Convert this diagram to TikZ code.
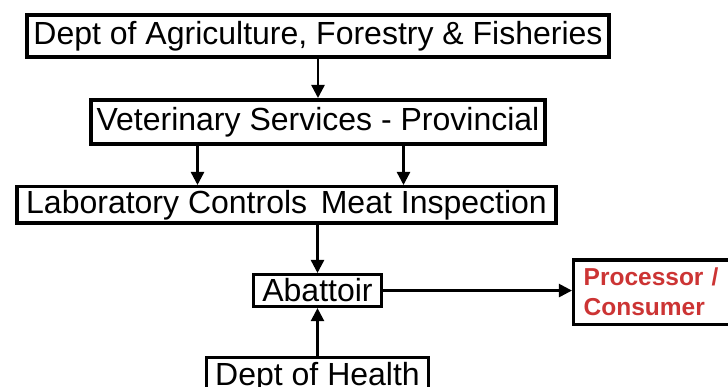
\documentclass[tikz,border=0pt]{standalone}
\usepackage{fontspec}
\setsansfont{Liberation Sans}
\RequirePackage{xcolor}
\definecolor{procred}{RGB}{204,52,52}
\tikzset{every picture/.style={/utils/exec={\sffamily}}}
\usetikzlibrary{calc}
\usetikzlibrary{positioning}
\usetikzlibrary{arrows.meta}

\begin{document}
\begin{tikzpicture}[x=1pt, y=1pt,
    box/.style={draw, line width=4pt, inner xsep=6pt, inner ysep=2pt,
      font=\fontsize{32}{36}\selectfont},
    thinbox/.style={box, line width=2.6pt, inner xsep=9pt},
    arr/.style={line width=2.4pt, -{Triangle[length=13pt, width=13pt]}}]

  \useasboundingbox (0,0) rectangle (728,-387);

  \node [box, minimum height=42pt] (daff) at (318,-36)
    {Dept of Agriculture, Forestry \& Fisheries};
  \node [box, minimum height=44pt, below=39pt of daff] (vets)
    {Veterinary Services - Provincial};
  \node [box, line width=3.5pt, minimum height=36.5pt, below=39pt of vets,
    xshift=-31.5pt, inner xsep=9pt] (lab)
    {Laboratory Controls\hspace{0.15em} Meat Inspection};
  \node [thinbox, minimum height=32.5pt, below=48pt of lab, xshift=31pt] (abattoir)
    {Abattoir};
  \node [thinbox, line width=3pt, minimum height=40pt, below=48pt of abattoir] (health)
    {Dept of Health};
  \node [box, line width=3.5pt, right=189pt of abattoir, yshift=-1.5pt,
    minimum height=64.5pt, text width=150pt, align=left, inner xsep=10pt,
    text=procred, font=\bfseries\fontsize{24.5}{30}\selectfont] (proc)
    {Processor /\\Consumer};

  \draw [arr] (daff) -- (vets);
  \draw [arr] ([xshift=-120.5pt]vets.south) -- ([xshift=-120.5pt]vets.south |- lab.north);
  \draw [arr] ([xshift=85.5pt]vets.south) -- ([xshift=85.5pt]vets.south |- lab.north);
  \draw [arr] (abattoir.north |- lab.south) -- (abattoir);
  \draw [arr] (abattoir.east) -- (abattoir.east -| proc.west);
  \draw [arr] (health) -- (abattoir);

\end{tikzpicture}
\end{document}
